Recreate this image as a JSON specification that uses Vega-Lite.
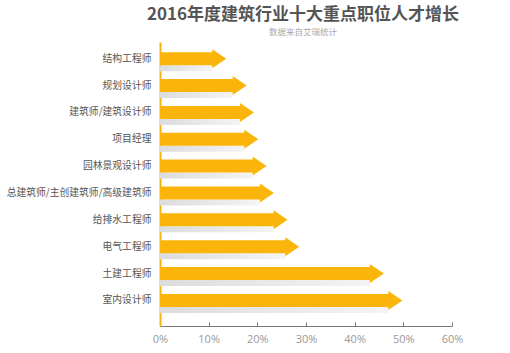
{
  "$schema": "https://vega.github.io/schema/vega-lite/v6.json",
  "width": 292,
  "height": 284,
  "autosize": {"type": "none"},
  "padding": {"left": 160, "top": 42, "right": 58, "bottom": 27},
  "background": "white",
  "title": {
    "text": "2016年度建筑行业十大重点职位人才增长",
    "subtitle": "数据来自艾瑞统计",
    "anchor": "middle",
    "frame": "group",
    "dx": -3,
    "font": "Noto Sans CJK SC",
    "fontSize": 17,
    "fontWeight": "bold",
    "color": "#555555",
    "subtitleFont": "Noto Sans CJK SC",
    "subtitleFontSize": 8.5,
    "subtitleColor": "#aaaaaa",
    "subtitlePadding": 4,
    "offset": 5
  },
  "data": {
    "values": [
      {"job": "结构工程师", "v": 13.6},
      {"job": "规划设计师", "v": 17.8},
      {"job": "建筑师/建筑设计师", "v": 19.3},
      {"job": "项目经理", "v": 20.2},
      {"job": "园林景观设计师", "v": 21.9},
      {"job": "总建筑师/主创建筑师/高级建筑师", "v": 23.4},
      {"job": "给排水工程师", "v": 26.2},
      {"job": "电气工程师", "v": 28.6},
      {"job": "土建工程师", "v": 46.0},
      {"job": "室内设计师", "v": 49.8}
    ]
  },
  "encoding": {
    "y": {
      "field": "job",
      "type": "nominal",
      "sort": null,
      "scale": {"paddingInner": 0, "paddingOuter": 0.287, "align": 0.21},
      "axis": {
        "title": null,
        "ticks": false,
        "labelPadding": 9,
        "labelFont": "Noto Sans CJK SC",
        "labelFontSize": 9.8,
        "labelColor": "#555555",
        "domainColor": "#FBB40A",
        "domainWidth": 2,
        "labelLimit": 200
      }
    }
  },
  "layer": [
    {
      "mark": {
        "type": "bar",
        "size": 6,
        "yOffset": 9.5,
        "xOffset": -14,
        "color": {
          "gradient": "linear",
          "x1": 0, "x2": 1, "y1": 0, "y2": 0,
          "stops": [
            {"offset": 0, "color": "#dcdcdc"},
            {"offset": 1, "color": "#f4f4f4"}
          ]
        }
      },
      "encoding": {
        "x": {
          "field": "v",
          "type": "quantitative",
          "scale": {"domain": [0, 60], "nice": false},
          "axis": {
            "values": [0, 10, 20, 30, 40, 50, 60],
            "labelExpr": "datum.value + '%'",
            "title": null,
            "grid": false,
            "labelFlush": false,
            "domainColor": "#777777",
            "tickColor": "#777777",
            "tickSize": -4,
            "labelColor": "#999999",
            "labelFont": "Open Sans",
            "labelFontSize": 11,
            "labelPadding": 11
          }
        },
        "x2": {"datum": 0}
      }
    },
    {
      "mark": {"type": "bar", "size": 13, "xOffset": -13, "color": "#FBB40A"},
      "encoding": {
        "x": {"field": "v", "type": "quantitative"},
        "x2": {"datum": 0}
      }
    },
    {
      "mark": {
        "type": "point",
        "shape": "M-1.47,-1L0,0L-1.47,1Z",
        "size": 361,
        "filled": true,
        "opacity": 1,
        "color": "#FBB40A"
      },
      "encoding": {
        "x": {"field": "v", "type": "quantitative"}
      }
    }
  ],
  "config": {"view": {"stroke": null}}
}
